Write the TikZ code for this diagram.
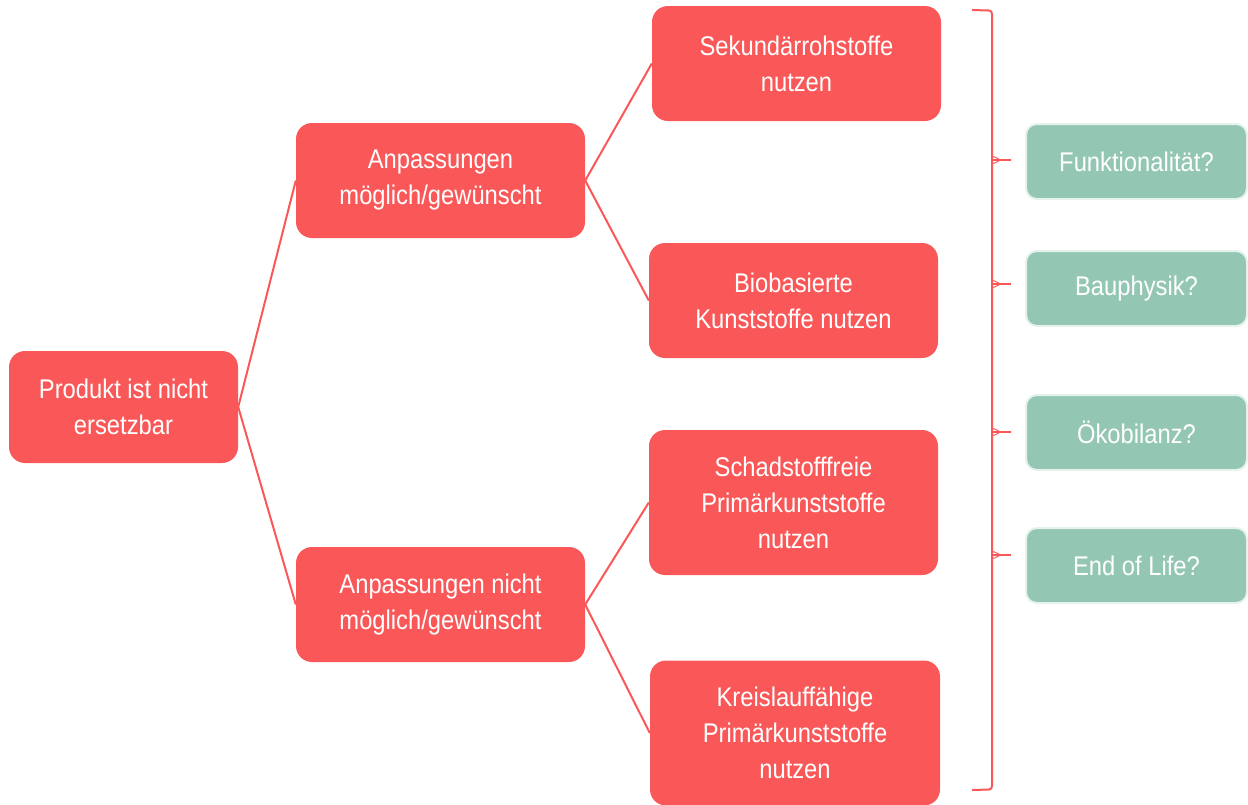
\documentclass[tikz,border=0pt]{standalone}
\usepackage{fontspec}
\setmainfont[FakeStretch=0.88]{Liberation Sans}
\usetikzlibrary{positioning}
\definecolor{rbox}{HTML}{FA5858}
\definecolor{gbox}{HTML}{93C7B3}
\definecolor{gedge}{HTML}{E6F2EC}
\tikzset{
  redbox/.style={fill=rbox, rounded corners=16pt, text=white, align=center,
    font=\fontsize{27}{36}\selectfont, inner sep=0pt},
  greenbox/.style={fill=gbox, draw=gedge, line width=2pt, rounded corners=11pt, text=white,
    align=center, font=\fontsize{27}{36}\selectfont, inner sep=0pt,
    minimum width=221pt, minimum height=75pt},
  conn/.style={draw=rbox, line width=2pt},
  tick/.style={draw=rbox, line width=1.3pt},
}
\begin{document}
\begin{tikzpicture}[x=1pt,y=-1pt]
\useasboundingbox (0,0) rectangle (1248,804);
% red boxes
\node[redbox, minimum width=229pt, minimum height=112pt] (p) at (123.5,407) {Produkt ist nicht\\ersetzbar};
\node[redbox, minimum width=289pt, minimum height=115pt] (a1) at (440.5,180.5) {Anpassungen\\möglich/gewünscht};
\node[redbox, minimum width=289pt, minimum height=115pt] (a2) at (440.5,604.5) {Anpassungen nicht\\möglich/gewünscht};
\node[redbox, minimum width=289pt, minimum height=115pt] (s1) at (796.5,63.5) {Sekundärrohstoffe\\nutzen};
\node[redbox, minimum width=289pt, minimum height=115pt] (s2) at (793.5,300.5) {Biobasierte\\Kunststoffe nutzen};
\node[redbox, minimum width=289pt, minimum height=145pt] (s3) at (793.5,502.5) {Schadstofffreie\\Primärkunststoffe\\nutzen};
\node[redbox, minimum width=290pt, minimum height=145pt] (s4) at (795,733) {Kreislauffähige\\Primärkunststoffe\\nutzen};
% connectors
\draw[conn] (p.east) -- (a1.west);
\draw[conn] (p.east) -- (a2.west);
\draw[conn] (a1.east) -- (s1.west);
\draw[conn] (a1.east) -- (s2.west);
\draw[conn] (a2.east) -- (s3.west);
\draw[conn] (a2.east) -- (s4.west);
% green boxes
\node[greenbox] (g1) at (1136.5,161.5) {Funktionalität?};
\node[greenbox] (g2) at (1136.5,288.5) {Bauphysik?};
\node[greenbox] (g3) at (1136.5,432.5) {Ökobilanz?};
\node[greenbox] (g4) at (1136.5,565.5) {End of Life?};
% bracket
\coordinate (bt) at (972,10);
\coordinate (bb) at (972,790);
\draw[conn] (bt) -- (989,10.5) to[out=0,in=90] (992,14) -- (992,786) to[out=-90,in=0] (989,789.5) -- (bb);
\foreach \g/\yy in {g1/160, g2/284, g3/432, g4/555}{
  \coordinate (t\g) at (992,\yy);
  \draw[tick] (t\g) -- ([xshift=-14pt]\g.west |- t\g);
  \draw[tick, line width=1pt] (992,\yy-3.5) to[out=0,in=180] (1002,\yy) to[out=180,in=0] (992,\yy+3.5);
}
\end{tikzpicture}
\end{document}
